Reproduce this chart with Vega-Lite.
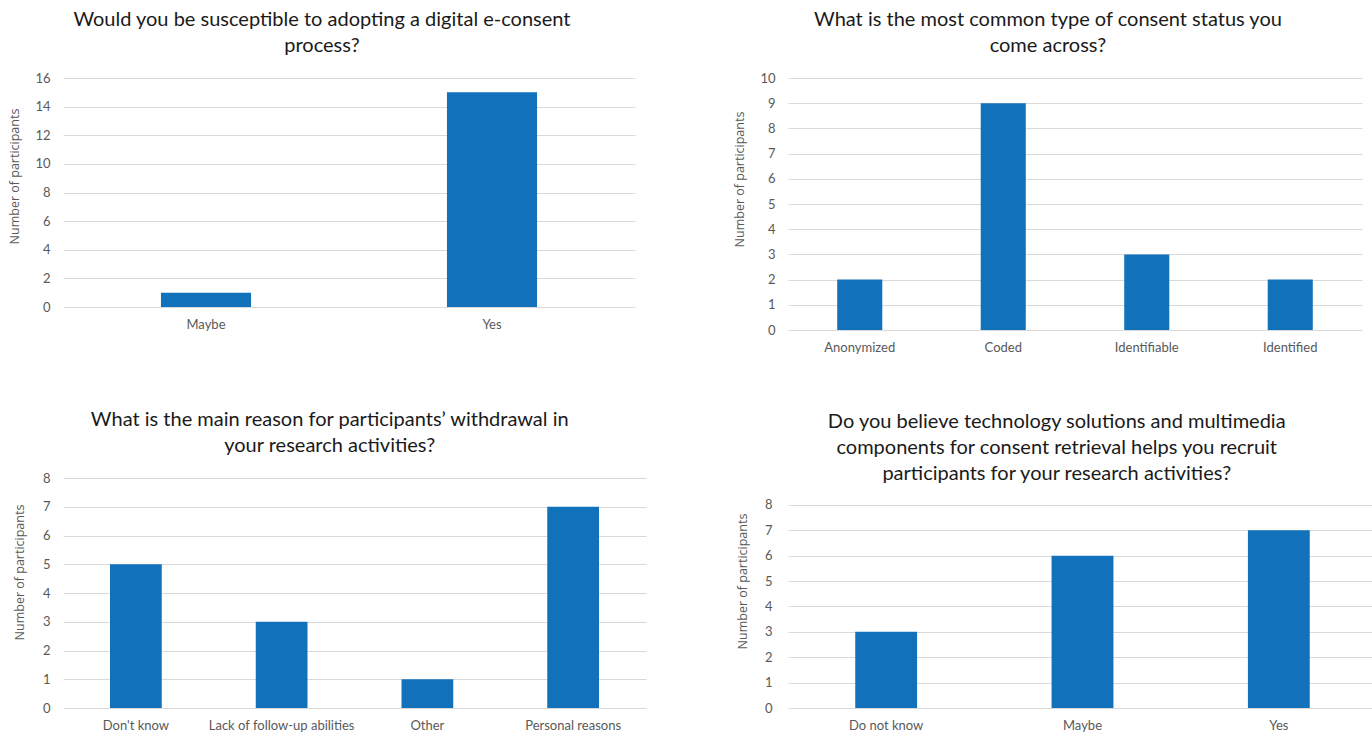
{
  "$schema": "https://vega.github.io/schema/vega-lite/v6.json",
  "background": "white",
  "padding": {"left": 8, "top": 10, "right": 0, "bottom": 0},
  "spacing": 56,
  "config": {
    "view": {"stroke": null},
    "title": {"font": "Lato", "fontSize": 20, "fontWeight": "normal", "color": "#1a1a1a", "lineHeight": 26, "anchor": "middle", "frame": "bounds", "offset": 16},
    "axis": {"labelFont": "Lato", "labelFontSize": 13, "labelColor": "#595959", "titleFont": "Open Sans", "titleFontSize": 12.5, "titleFontWeight": "normal", "titleColor": "#595959", "domain": false, "ticks": false, "tickSize": 0, "gridColor": "#D9D9D9", "gridWidth": 1},
    "axisX": {"labelAngle": 0, "labelPadding": 11, "grid": false},
    "axisY": {"labelPadding": 13, "titlePadding": 13},
    "bar": {"color": "#1271BB"}
  },
  "vconcat": [
    {
      "hconcat": [
        {
          "title": {"text": ["Would you be susceptible to adopting a digital e-consent", "process?"]},
          "width": 572, "height": 229,
          "data": {"values": [{"answer": "Maybe", "count": 1}, {"answer": "Yes", "count": 15}]},
          "mark": "bar",
          "encoding": {
            "x": {"field": "answer", "type": "nominal", "sort": null, "title": null, "scale": {"paddingInner": 0.685, "paddingOuter": 0.3425}},
            "y": {"field": "count", "type": "quantitative", "title": "Number of participants", "scale": {"domain": [0, 16]}, "axis": {"values": [0, 2, 4, 6, 8, 10, 12, 14, 16], "titleY": 98}}
          }
        },
        {
          "title": {"text": ["What is the most common type of consent status you", "come across?"]},
          "width": 574, "height": 252,
          "data": {"values": [{"answer": "Anonymized", "count": 2}, {"answer": "Coded", "count": 9}, {"answer": "Identifiable", "count": 3}, {"answer": "Identified", "count": 2}]},
          "mark": "bar",
          "encoding": {
            "x": {"field": "answer", "type": "nominal", "sort": null, "title": null, "scale": {"paddingInner": 0.686, "paddingOuter": 0.343}},
            "y": {"field": "count", "type": "quantitative", "title": "Number of participants", "scale": {"domain": [0, 10]}, "axis": {"values": [0, 1, 2, 3, 4, 5, 6, 7, 8, 9, 10], "titleY": 101}}
          }
        }
      ],
      "spacing": 98
    },
    {
      "hconcat": [
        {
          "title": {"text": ["What is the main reason for participants’ withdrawal in", "your research activities?"]},
          "width": 583, "height": 230,
          "data": {"values": [{"answer": "Don't know", "count": 5}, {"answer": "Lack of follow-up abilities", "count": 3}, {"answer": "Other", "count": 1}, {"answer": "Personal reasons", "count": 7}]},
          "mark": "bar",
          "encoding": {
            "x": {"field": "answer", "type": "nominal", "sort": null, "title": null, "scale": {"paddingInner": 0.645, "paddingOuter": 0.3225}},
            "y": {"field": "count", "type": "quantitative", "title": "Number of participants", "scale": {"domain": [0, 8]}, "axis": {"values": [0, 1, 2, 3, 4, 5, 6, 7, 8], "titlePadding": 16, "titleY": 94}}
          }
        },
        {
          "title": {"text": ["Do you believe technology solutions and multimedia", "components for consent retrieval helps you recruit", "participants for your research activities?"], "offset": -6},
          "width": 589, "height": 230,
          "data": {"values": [{"answer": "Do not know", "count": 3}, {"answer": "Maybe", "count": 6}, {"answer": "Yes", "count": 7}]},
          "mark": "bar",
          "encoding": {
            "x": {"field": "answer", "type": "nominal", "sort": null, "title": null, "scale": {"paddingInner": 0.685, "paddingOuter": 0.3425}},
            "y": {"field": "count", "type": "quantitative", "title": "Number of participants", "scale": {"domain": [0, 9.064], "nice": false}, "axis": {"values": [0, 1, 2, 3, 4, 5, 6, 7, 8], "labelPadding": 16, "titlePadding": 15, "titleY": 103}}
          }
        }
      ],
      "spacing": 90
    }
  ]
}
